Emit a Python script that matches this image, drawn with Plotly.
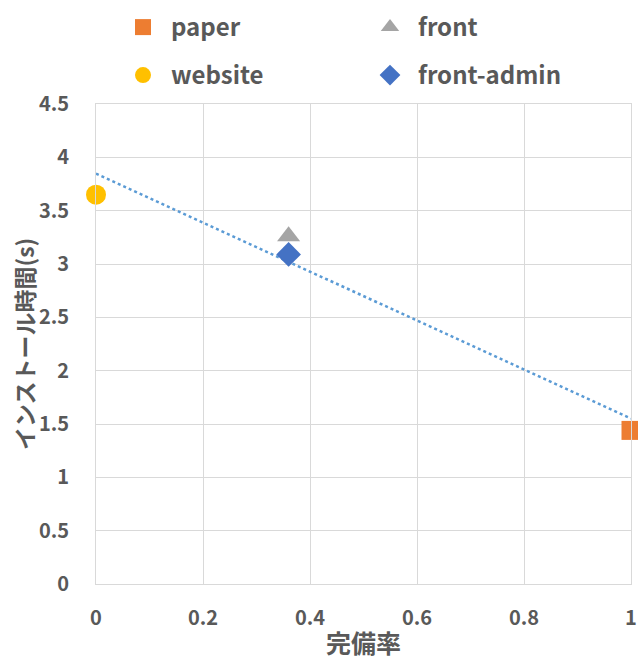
import numpy as np
import plotly.graph_objects as go

names = ["paper", "front", "website", "front-admin"]
x_vals = [1.0, 0.36, 0.0, 0.36]
y_vals = [1.44, 3.26, 3.65, 3.09]
colors = ["#ED7D31", "#A5A5A5", "#FFC000", "#4472C4"]
symbols = ["square", "triangle-up", "circle", "diamond"]
sizes = [19, 20, 20, 19]

x_ticks = [0, 0.2, 0.4, 0.6, 0.8, 1.0]
x_labels = ["0", "0.2", "0.4", "0.6", "0.8", "1"]
y_ticks = [0, 0.5, 1, 1.5, 2, 2.5, 3, 3.5, 4, 4.5]
y_labels = ["0", "0.5", "1", "1.5", "2", "2.5", "3", "3.5", "4", "4.5"]
x_title = "完備率"
y_title = "インストール時間(s)"

FONT = "Noto Sans CJK JP"
TXT = "#595959"
W, H = 638, 660
ML, MR, MT, MB = 96, 7, 104, 76

fig = go.Figure()

# linear trendline (least squares over all points)
slope, intercept = np.polyfit(x_vals, y_vals, 1)
tx = np.array([0.0, 1.0])
fig.add_trace(go.Scatter(x=tx, y=slope * tx + intercept, mode="lines",
                         line=dict(color="#5B9BD5", width=2.5, dash="dot"),
                         showlegend=False, hoverinfo="skip"))

legend_ids = ["legend", "legend2", "legend3", "legend4"]
for n, xv, yv, c, s, sz, lg in zip(names, x_vals, y_vals, colors, symbols, sizes, legend_ids):
    fig.add_trace(go.Scatter(x=[xv], y=[yv], mode="markers", name=n,
                             marker=dict(color=c, symbol=s, size=sz, line=dict(width=0)),
                             cliponaxis=False, legend=lg))

legend_common = dict(orientation="v", xref="container", yref="container",
                     xanchor="left", yanchor="top", itemwidth=46,
                     font=dict(family=FONT, size=24, color=TXT, weight="bold"),
                     bgcolor="rgba(0,0,0,0)", itemsizing="trace")

# legend grid: (left px, top px)
leg_pos = {"legend": (115, 5), "legend2": (362, 5), "legend3": (115, 53), "legend4": (362, 53)}
legends = {k: dict(x=px / W, y=1 - py / H, **legend_common) for k, (px, py) in leg_pos.items()}

plot_w = W - ML - MR

fig.update_layout(
    width=W, height=H,
    margin=dict(l=ML, r=MR, t=MT, b=MB, autoexpand=False),
    paper_bgcolor="white", plot_bgcolor="white",
    font=dict(family=FONT, color=TXT),
    **legends,
    xaxis=dict(range=[0, 1], tickvals=x_ticks, ticktext=x_labels,
               showgrid=True, gridcolor="#D9D9D9", gridwidth=1,
               zeroline=False, showline=True, linecolor="#D9D9D9", mirror=True,
               ticks="", ticklabelstandoff=16,
               tickfont=dict(family=FONT, size=20, color=TXT, weight="bold"),
               title=dict(text=x_title, font=dict(family=FONT, size=25, color=TXT, weight="bold"),
                          standoff=10)),
    yaxis=dict(range=[0, 4.5], tickvals=y_ticks, ticktext=y_labels,
               showgrid=True, gridcolor="#D9D9D9", gridwidth=1,
               zeroline=False, showline=True, linecolor="#D9D9D9", mirror=True,
               ticks="", ticklabelstandoff=22,
               tickfont=dict(family=FONT, size=20, color=TXT, weight="bold")),
    annotations=[dict(text=y_title, textangle=-90, showarrow=False,
                      xref="paper", yref="paper", x=-(ML - 24) / plot_w, y=0.5,
                      xanchor="center", yanchor="middle",
                      font=dict(family=FONT, size=23, color=TXT, weight="bold"))],
)

fig.write_html("out.html")
